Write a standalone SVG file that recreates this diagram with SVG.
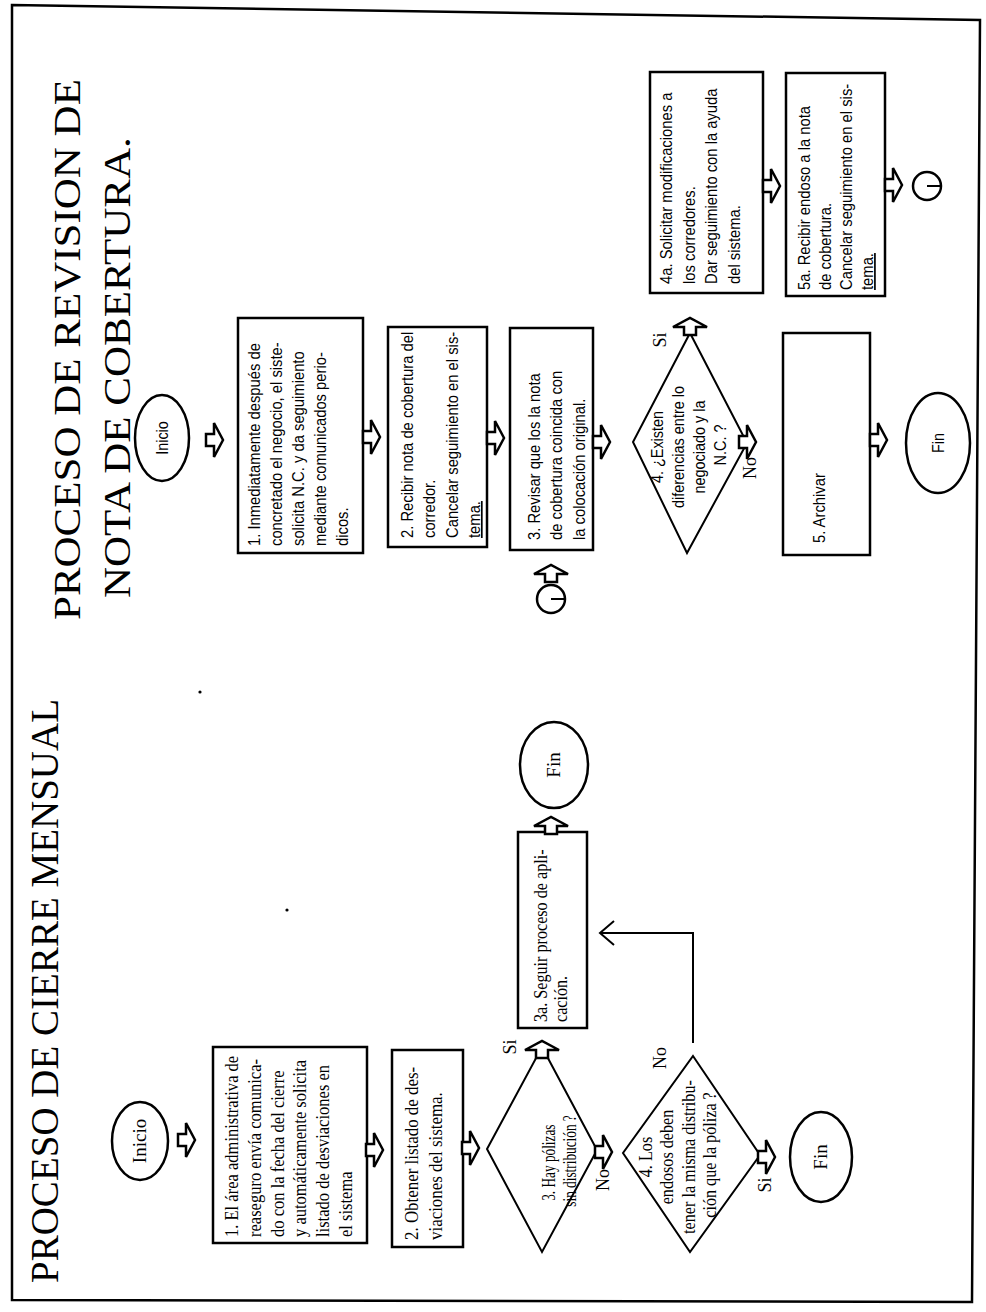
<svg xmlns="http://www.w3.org/2000/svg" xmlns:xlink="http://www.w3.org/1999/xlink" width="986" height="1312" viewBox="0 0 986 1312">
<style>
.shape{fill:#fff;stroke:#000;stroke-width:2.5}
.dia{fill:#fff;stroke:#000;stroke-width:2}
.ser{font-family:"Liberation Serif","Times New Roman",serif;font-size:19px;fill:#000}
.san{font-family:"Liberation Sans",Arial,sans-serif;font-size:17px;fill:#000}
.title{font-family:"Liberation Serif","Times New Roman",serif;fill:#000}
.lbl{font-family:"Liberation Serif","Times New Roman",serif;font-size:18px;fill:#000}
.ba{fill:#fff;stroke:#000;stroke-width:2.5;stroke-linejoin:miter}
.ln{fill:none;stroke:#000;stroke-width:2}
</style>
<defs>
<path id="ba" d="M0,-6 L8,-6 L8,-17 L17,0 L8,17 L8,6 L0,6 Z"/>
</defs>
<rect x="0" y="0" width="986" height="1312" fill="#fff"/>
<path d="M12,5 L980,20 L972,1302 L12,1300 Z" fill="none" stroke="#000" stroke-width="2.5"/>
<circle cx="200" cy="692" r="1.6" fill="#000"/>
<circle cx="287" cy="910" r="1.6" fill="#000"/>

<g id="title-left">
<text class="title" font-size="39" transform="translate(58,1283) rotate(-90)">PROCESO DE CIERRE MENSUAL</text>
</g>
<g id="title-right">
<text class="title" font-size="43" transform="translate(80,620) rotate(-90) scale(1,0.9)">PROCESO DE REVISION DE</text>
<text class="title" font-size="43" transform="translate(130,598) rotate(-90) scale(1,0.9)">NOTA DE COBERTURA.</text>
</g>

<!-- LEFT PROCESS -->
<g id="L-inicio">
<ellipse class="shape" cx="140" cy="1141" rx="28" ry="39"/>
<text class="ser" font-size="16" text-anchor="middle" transform="translate(146,1141) rotate(-90)">Inicio</text>
</g>
<g id="L-box1">
<rect class="shape" x="213" y="1047" width="154" height="196"/>
<text class="ser" transform="translate(238,1237) rotate(-90) scale(0.87,1)">
<tspan x="0" y="0">1. El área administrativa de</tspan>
<tspan x="0" dy="22.8">reaseguro envía comunica-</tspan>
<tspan x="0" dy="22.8">do con la fecha del cierre</tspan>
<tspan x="0" dy="22.8">y automáticamente solicita</tspan>
<tspan x="0" dy="22.8">listado de desviaciones en</tspan>
<tspan x="0" dy="22.8">el sistema</tspan>
</text>
</g>
<g id="L-box2">
<rect class="shape" x="392" y="1050" width="71" height="197"/>
<text class="ser" transform="translate(418,1240) rotate(-90) scale(0.89,1)">
<tspan x="0" y="0">2. Obtener listado de des-</tspan>
<tspan x="0" dy="24">viaciones del sistema.</tspan>
</text>
</g>
<g id="L-dia3">
<polygon class="dia" points="542,1047 597,1150 542,1252 487,1149"/>
<text class="ser" font-size="18" text-anchor="middle" transform="translate(555,1161) rotate(-90) scale(0.7,1)">
<tspan x="0" y="0">3. Hay pólizas</tspan>
<tspan x="0" dy="21">sin distribución ?</tspan>
</text>
</g>
<g id="L-box3a">
<rect class="shape" x="518" y="832" width="69" height="196"/>
<text class="ser" transform="translate(547,1022) rotate(-90) scale(0.85,1)">
<tspan x="0" y="0">3a. Seguir proceso de apli-</tspan>
<tspan x="0" dy="20">cación.</tspan>
</text>
</g>
<g id="L-fin1">
<ellipse class="shape" cx="554" cy="765" rx="34" ry="43"/>
<text class="ser" font-size="16" text-anchor="middle" transform="translate(560,765) rotate(-90)">Fin</text>
</g>
<g id="L-dia4">
<polygon class="dia" points="693,1056 760,1155 690,1252 623,1153"/>
<text class="ser" text-anchor="middle" transform="translate(652,1155) rotate(-90) scale(0.85,1)">
<tspan x="0" y="0">4. Los</tspan>
<tspan x="0" dy="21.3">endosos deben</tspan>
<tspan x="0" dy="21.3">tener la misma distribu-</tspan>
<tspan x="0" dy="21.3">ción que  la póliza ?</tspan>
</text>
</g>
<g id="L-fin2">
<ellipse class="shape" cx="821" cy="1157" rx="31" ry="45"/>
<text class="ser" font-size="16" text-anchor="middle" transform="translate(827,1157) rotate(-90)">Fin</text>
</g>

<!-- RIGHT PROCESS -->
<g id="R-inicio">
<ellipse class="shape" cx="162" cy="438" rx="27" ry="43"/>
<text class="san" font-size="15" text-anchor="middle" transform="translate(168,438) rotate(-90) scale(0.85,1)">Inicio</text>
</g>
<g id="R-box1">
<rect class="shape" x="238" y="318" width="125" height="235"/>
<text class="san" transform="translate(260,546) rotate(-90) scale(0.87,1)">
<tspan x="0" y="0">1. Inmediatamente después de</tspan>
<tspan x="0" dy="22">concretado el negocio, el siste-</tspan>
<tspan x="0" dy="22">solicita N.C. y da seguimiento</tspan>
<tspan x="0" dy="22">mediante comunicados perio-</tspan>
<tspan x="0" dy="22">dicos.</tspan>
</text>
</g>
<g id="R-box2">
<rect class="shape" x="388" y="327" width="99" height="220"/>
<text class="san" transform="translate(413,538) rotate(-90) scale(0.87,1)">
<tspan x="0" y="0">2. Recibir nota de cobertura del</tspan>
<tspan x="0" dy="22.3">corredor.</tspan>
<tspan x="0" dy="22.3">Cancelar seguimiento en el sis-</tspan>
<tspan x="0" dy="22.3" text-decoration="underline">tema.</tspan>
</text>
</g>
<g id="R-box3">
<rect class="shape" x="510" y="328" width="83" height="222"/>
<text class="san" transform="translate(540,540) rotate(-90) scale(0.87,1)">
<tspan x="0" y="0">3. Revisar que los la nota</tspan>
<tspan x="0" dy="22.5">de cobertura coincida con</tspan>
<tspan x="0" dy="22.5">la colocación original.</tspan>
</text>
</g>
<g id="R-conn1">
<circle class="shape" cx="551" cy="599" r="14"/>
<line class="ln" x1="551" y1="599" x2="565" y2="599"/>
</g>
<g id="R-dia4">
<polygon class="dia" points="690,333 747,443 687,553 633,442"/>
<text class="san" font-size="16" text-anchor="middle" transform="translate(663,445) rotate(-90) scale(0.85,1)">
<tspan x="0" y="0">4. ¿Existen</tspan>
<tspan x="0" dy="21">diferencias entre lo</tspan>
<tspan x="0" dy="21">negociado y la</tspan>
<tspan x="0" dy="21">N.C. ?</tspan>
</text>
</g>
<g id="R-box4a">
<rect class="shape" x="650" y="72" width="113" height="221"/>
<text class="san" transform="translate(672,284) rotate(-90) scale(0.87,1)">
<tspan x="0" y="0">4a. Solicitar modificaciones a</tspan>
<tspan x="0" dy="22.7">los corredores.</tspan>
<tspan x="0" dy="22.7">Dar seguimiento con la ayuda</tspan>
<tspan x="0" dy="22.7">del sistema.</tspan>
</text>
</g>
<g id="R-box5a">
<rect class="shape" x="786" y="73" width="99" height="223"/>
<text class="san" transform="translate(810,290) rotate(-90) scale(0.87,1)">
<tspan x="0" y="0">5a. Recibir endoso a la nota</tspan>
<tspan x="0" dy="21">de cobertura.</tspan>
<tspan x="0" dy="21">Cancelar seguimiento en el sis-</tspan>
<tspan x="0" dy="21" text-decoration="underline">tema.</tspan>
</text>
</g>
<g id="R-conn2">
<circle class="shape" cx="927" cy="186" r="14"/>
<line class="ln" x1="927" y1="186" x2="941" y2="186"/>
</g>
<g id="R-box5">
<rect class="shape" x="783" y="333" width="87" height="222"/>
<text class="san" transform="translate(825,543) rotate(-90) scale(0.87,1)">5. Archivar</text>
</g>
<g id="R-fin">
<ellipse class="shape" cx="938" cy="443" rx="32" ry="50"/>
<text class="san" font-size="15" text-anchor="middle" transform="translate(944,443) rotate(-90) scale(0.85,1)">Fin</text>
</g>

<g id="connectors">
<use href="#ba" class="ba" transform="translate(178,1140)"/>
<use href="#ba" class="ba" transform="translate(366,1150)"/>
<use href="#ba" class="ba" transform="translate(462,1148)"/>
<use href="#ba" class="ba" transform="translate(595,1152)"/>
<use href="#ba" class="ba" transform="translate(758,1157)"/>
<use href="#ba" class="ba" transform="translate(542,1058) rotate(-90)"/>
<use href="#ba" class="ba" transform="translate(551,834) rotate(-90)"/>
<polyline class="ln" points="693,1043 693,933 600,933"/>
<polyline class="ln" points="614,921 600,933 614,945"/>
<use href="#ba" class="ba" transform="translate(206,440)"/>
<use href="#ba" class="ba" transform="translate(363,437)"/>
<use href="#ba" class="ba" transform="translate(487,438)"/>
<use href="#ba" class="ba" transform="translate(593,442)"/>
<use href="#ba" class="ba" transform="translate(739,442)"/>
<use href="#ba" class="ba" transform="translate(763,186)"/>
<use href="#ba" class="ba" transform="translate(870,440)"/>
<use href="#ba" class="ba" transform="translate(885,185)"/>
<use href="#ba" class="ba" transform="translate(690,335) rotate(-90)"/>
<use href="#ba" class="ba" transform="translate(551,582) rotate(-90)"/>
</g>
<g id="labels">
<text class="lbl" text-anchor="middle" transform="translate(516,1047) rotate(-90)">Si</text>
<text class="lbl" text-anchor="middle" transform="translate(609,1180) rotate(-90)">No</text>
<text class="lbl" text-anchor="middle" transform="translate(666,1058) rotate(-90)">No</text>
<text class="lbl" text-anchor="middle" transform="translate(771,1185) rotate(-90)">Si</text>
<text class="lbl" text-anchor="middle" transform="translate(666,340) rotate(-90)">Si</text>
<text class="lbl" text-anchor="middle" transform="translate(756,468) rotate(-90)">No</text>
</g>
</svg>
